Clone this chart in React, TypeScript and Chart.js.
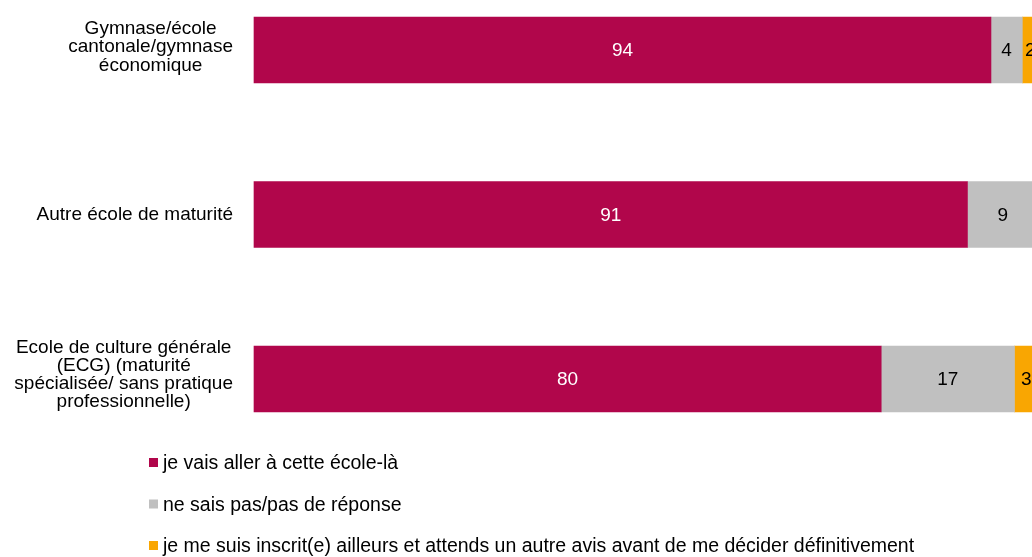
import React, { useEffect, useRef } from "react";
import { Chart, registerables } from "chart.js";

Chart.register(...registerables);

const FONT = '"Liberation Sans", Arial, sans-serif';

const categories: string[][] = [
  ["Gymnase/école", "cantonale/gymnase", "économique"],
  ["Autre école de maturité"],
  ["Ecole de culture générale", "(ECG) (maturité", "spécialisée/ sans pratique", "professionnelle)"],
];

const seriesNames = [
  "je vais aller à cette école-là",
  "ne sais pas/pas de réponse",
  "je me suis inscrit(e) ailleurs et attends un autre avis avant de me décider définitivement",
];

const goingValues = [94, 91, 80];
const unsureValues = [4, 9, 17];
const elsewhereValues = [2, 0, 3];

const seriesColors = ["#B1064B", "#C0C0C0", "#F9A602"];
const valueTextColors = ["#FFFFFF", "#000000", "#000000"];

const valueLabelsPlugin = {
  id: "valueLabels",
  afterDatasetsDraw(chart: any) {
    const ctx = chart.ctx;
    ctx.save();
    ctx.font = `19px ${FONT}`;
    ctx.textAlign = "center";
    ctx.textBaseline = "middle";
    chart.data.datasets.forEach((ds: any, di: number) => {
      const meta = chart.getDatasetMeta(di);
      meta.data.forEach((el: any, i: number) => {
        const v = ds.data[i];
        if (!v) return;
        const p = el.getProps(["x", "y", "base"], true);
        ctx.fillStyle = valueTextColors[di];
        ctx.fillText(String(v), (p.x + p.base) / 2, p.y + 1);
      });
    });
    ctx.restore();
  },
};

const categoryLabelsPlugin = {
  id: "categoryLabels",
  afterDraw(chart: any) {
    const ctx = chart.ctx;
    const yScale = chart.scales.y;
    ctx.save();
    ctx.font = `19px ${FONT}`;
    ctx.textAlign = "center";
    ctx.textBaseline = "middle";
    ctx.fillStyle = "#000000";
    const rightEdge = chart.chartArea.left - 21;
    const lh = 18.3;
    categories.forEach((lines, i) => {
      const cy = yScale.getPixelForValue(i) - (lines.length - 1) * 1.4;
      const maxW = Math.max(...lines.map((l) => ctx.measureText(l).width));
      const cx = rightEdge - maxW / 2;
      lines.forEach((line, j) => {
        ctx.fillText(line, cx, cy + (j - (lines.length - 1) / 2) * lh);
      });
    });
    ctx.restore();
  },
};

const customLegendPlugin = {
  id: "customLegend",
  afterDraw(chart: any) {
    const ctx = chart.ctx;
    ctx.save();
    ctx.font = `19.5px ${FONT}`;
    ctx.textAlign = "left";
    ctx.textBaseline = "middle";
    const startY = chart.chartArea.bottom + 84;
    const spacing = 41.5;
    chart.data.datasets.forEach((ds: any, i: number) => {
      const y = startY + i * spacing;
      ctx.fillStyle = ds.backgroundColor;
      ctx.fillRect(149, y - 5, 9, 9);
      ctx.fillStyle = "#000000";
      ctx.fillText(ds.label, 163, y + 1);
    });
    ctx.restore();
  },
};

export default function App() {
  const canvasRef = useRef<HTMLCanvasElement | null>(null);

  useEffect(() => {
    if (!canvasRef.current) return;
    const seriesValues = [goingValues, unsureValues, elsewhereValues];
    const chart = new Chart(canvasRef.current, {
      type: "bar",
      data: {
        labels: categories.map((c) => c.join(" ")),
        datasets: seriesNames.map((name, i) => ({
          label: name,
          data: seriesValues[i],
          backgroundColor: seriesColors[i],
          borderWidth: 0,
          barThickness: 66,
          clip: false as any,
        })),
      },
      options: {
        indexAxis: "y",
        responsive: false,
        animation: false,
        layout: { padding: { left: 254, right: 0, top: 50, bottom: 178 } },
        scales: {
          x: { stacked: true, min: 0, max: 100, display: false },
          y: { stacked: true, offset: false, display: false },
        },
        plugins: {
          legend: { display: false },
          tooltip: { enabled: false },
        },
      },
      plugins: [valueLabelsPlugin, categoryLabelsPlugin, customLegendPlugin],
    });
    return () => chart.destroy();
  }, []);

  return (
    <div
      style={{
        position: "absolute",
        left: 0,
        top: 0,
        width: 1032,
        height: 557,
        overflow: "hidden",
        background: "#ffffff",
      }}
    >
      <canvas ref={canvasRef} width={1038} height={557} />
    </div>
  );
}
